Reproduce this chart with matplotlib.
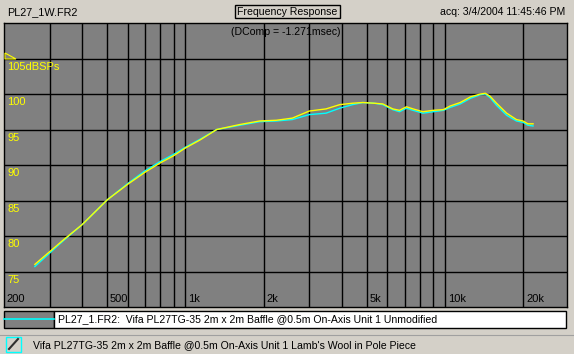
import matplotlib.pyplot as plt
from matplotlib.patches import Rectangle, Polygon

# valeurs (Hz, dB SPL)
freq = [263, 300, 340, 400, 500, 600, 700, 800, 900, 1000, 1135, 1320, 1620,
        1930, 2240, 2580, 3000, 3480, 3930, 4400, 4820, 5340, 5760, 6290,
        6680, 7100, 7530, 8220, 9000, 9850, 10450, 11440, 12540, 13680,
        14300, 14900, 15790, 17270, 18840, 19980, 20850, 21830]
laine = [76.0, 77.8, 79.5, 81.6, 85.1, 87.3, 89.0, 90.3, 91.3, 92.4, 93.5,
         95.0, 95.7, 96.2, 96.3, 96.6, 97.6, 97.9, 98.5, 98.7, 98.8, 98.7,
         98.6, 97.9, 97.7, 98.2, 97.9, 97.5, 97.7, 97.8, 98.3, 98.8, 99.6,
         100.0, 100.1, 99.7, 98.7, 97.3, 96.4, 96.2, 95.8, 95.8]
origine = [75.7, 77.6, 79.4, 81.6, 85.1, 87.4, 89.2, 90.5, 91.5, 92.5, 93.6,
           95.0, 95.6, 96.1, 96.2, 96.4, 97.1, 97.3, 98.0, 98.5, 98.8, 98.7,
           98.5, 97.8, 97.5, 98.0, 97.7, 97.3, 97.5, 97.7, 98.1, 98.6, 99.4,
           99.9, 100.0, 99.5, 98.4, 97.0, 96.2, 96.0, 95.6, 95.5]

grille_x = [300, 400, 500, 600, 700, 800, 900, 1000, 2000, 3000, 4000, 5000,
            6000, 7000, 8000, 9000, 10000, 20000]
labels_x = {200: '200', 500: '500', 1000: '1k', 2000: '2k', 5000: '5k',
            10000: '10k', 20000: '20k'}
labels_y = [75, 80, 85, 90, 95, 100]

W, H = 574, 354
fond = '#d4d0c8'
fs = 7.6
plt.rcParams['font.family'] = ['Liberation Sans', 'DejaVu Sans']
plt.rcParams['font.size'] = fs


def fx(x):
    return x / W


def fy(y):
    return 1 - y / H


fig = plt.figure(figsize=(W / 100, H / 100), dpi=100, facecolor=fond)

ax = fig.add_axes([fx(4), fy(307), (567 - 4) / W, (307 - 23) / H])
ax.set_facecolor('#808080')
ax.set_xscale('log')
ax.set_xlim(200, 29500)
ax.set_ylim(70, 110)
ax.set_xticks(grille_x)
ax.set_xticks([], minor=True)
ax.set_yticks([75, 80, 85, 90, 95, 100, 105])
ax.tick_params(length=0, labelbottom=False, labelleft=False)
ax.grid(True, color='black', lw=1.0)
for s in ax.spines.values():
    s.set_color('black')
    s.set_linewidth(1.0)

ax.plot(freq, origine, color='#00ffff', lw=1.0, zorder=3)
ax.plot(freq, laine, color='#ffff00', lw=1.0, zorder=4)

for f, t in labels_x.items():
    ax.annotate(t, (f, 70), xytext=(2, 2), textcoords='offset points',
                ha='left', va='bottom', color='black', fontsize=fs + 0.4)
for v in labels_y:
    ax.annotate(str(v), (200, v), xytext=(2.5, -2.5), textcoords='offset points',
                ha='left', va='top', color='#ffff00', fontsize=fs + 0.4)
ax.annotate('105dBSPs', (200, 105), xytext=(2.5, -2.5), textcoords='offset points',
            ha='left', va='top', color='#ffff00', fontsize=fs + 0.4)
fig.patches.append(Polygon([(fx(5), fy(53)), (fx(5), fy(59)), (fx(16), fy(59))],
                           closed=True, fill=False, edgecolor='#ffff00', lw=0.8,
                           transform=fig.transFigure))

ax.text(0.5, 0.968, '(DComp = -1.271msec)', transform=ax.transAxes,
        ha='center', va='center', color='black')

# en-tete
fig.text(fx(7), fy(12), 'PL27_1W.FR2', ha='left', va='center', fontsize=fs + 0.2)
fig.text(fx(287.5), fy(12), 'Frequency Response', ha='center', va='center')
fig.patches.append(Rectangle((fx(235), fy(18)), (340 - 235) / W, 13 / H,
                             fill=False, edgecolor='black', lw=1.0,
                             transform=fig.transFigure))
fig.text(fx(565), fy(12), 'acq: 3/4/2004 11:45:46 PM', ha='right', va='center')

# legende
fig.patches.append(Rectangle((fx(4), fy(328)), (54 - 4) / W, 17 / H,
                             facecolor='#808080', edgecolor='black', lw=1.0,
                             transform=fig.transFigure))
fig.patches.append(Rectangle((fx(54), fy(328)), (566 - 54) / W, 17 / H,
                             facecolor='white', edgecolor='black', lw=1.0,
                             transform=fig.transFigure))
fig.add_artist(plt.Line2D([fx(4), fx(54)], [fy(319), fy(319)],
                          color='#00ffff', lw=1.2))
fig.text(fx(58), fy(319.5), 'PL27_1.FR2:  Vifa PL27TG-35 2m x 2m Baffle @0.5m '
         'On-Axis Unit 1 Unmodified', ha='left', va='center')

# barre d'etat
fig.add_artist(plt.Line2D([0, 1], [fy(335), fy(335)], color='#a0a0a0', lw=0.8))
fig.patches.append(Rectangle((fx(6), fy(352)), 15 / W, 15 / H,
                             facecolor=fond, edgecolor='#00ffff', lw=1.0,
                             transform=fig.transFigure))
fig.add_artist(plt.Line2D([fx(9), fx(18)], [fy(349), fy(339)],
                          color='#303030', lw=1.5))
fig.text(fx(33), fy(345), "Vifa PL27TG-35 2m x 2m Baffle @0.5m On-Axis Unit 1 "
         "Lamb's Wool in Pole Piece", ha='left', va='center')

fig.savefig('out.png', dpi=100, facecolor=fond)
